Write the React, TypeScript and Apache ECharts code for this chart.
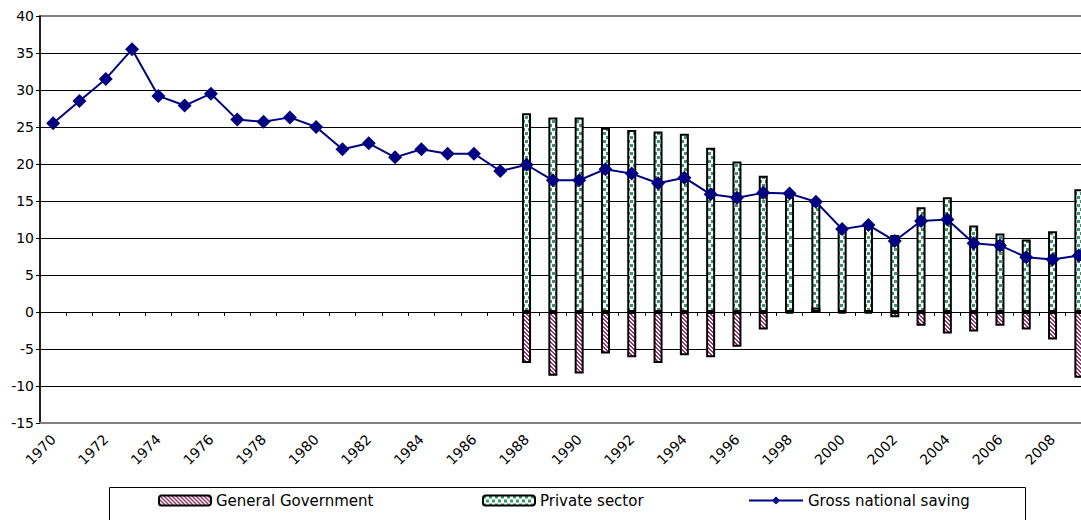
import React, { useEffect, useRef } from "react";
import * as echarts from "echarts";

const years = [
  "1970", "1971", "1972", "1973", "1974", "1975", "1976", "1977", "1978", "1979",
  "1980", "1981", "1982", "1983", "1984", "1985", "1986", "1987", "1988", "1989",
  "1990", "1991", "1992", "1993", "1994", "1995", "1996", "1997", "1998", "1999",
  "2000", "2001", "2002", "2003", "2004", "2005", "2006", "2007", "2008", "2009",
];

const generalGovernment = [
  null, null, null, null, null, null, null, null, null, null,
  null, null, null, null, null, null, null, null, -6.9, -8.6,
  -8.3, -5.6, -6.1, -6.9, -5.85, -6.1, -4.7, -2.35, -0.2, 0.6,
  -0.2, -0.2, -0.7, -1.85, -2.9, -2.65, -1.85, -2.35, -3.7, -8.9,
];

const privateSector = [
  null, null, null, null, null, null, null, null, null, null,
  null, null, null, null, null, null, null, null, 26.85, 26.3,
  26.3, 24.9, 24.6, 24.4, 24.1, 22.2, 20.35, 18.4, 15.9, 15.1,
  11.3, 12.1, 10.4, 14.15, 15.5, 11.7, 10.6, 9.8, 10.9, 16.6,
];

const grossNationalSaving = [
  25.5, 28.5, 31.5, 35.5, 29.2, 27.9, 29.5, 26.0, 25.7, 26.3,
  25.0, 22.0, 22.8, 20.9, 22.0, 21.4, 21.4, 19.05, 19.9, 17.8,
  17.8, 19.3, 18.7, 17.4, 18.15, 15.9, 15.45, 16.1, 16.0, 14.9,
  11.2, 11.75, 9.6, 12.3, 12.5, 9.3, 9.0, 7.4, 7.1, 7.65,
];

const yTicks = { min: -15, max: 40, interval: 5 };

function makePattern(kind: "dots" | "stripes") {
  const w = kind === "dots" ? 6 : 4;
  const h = kind === "dots" ? 8 : 4;
  const c = document.createElement("canvas");
  c.width = w;
  c.height = h;
  const ctx = c.getContext("2d")!;
  ctx.fillStyle = "#ffffff";
  ctx.fillRect(0, 0, w, h);
  if (kind === "dots") {
    ctx.fillStyle = "#339966";
    ctx.fillRect(0, 0, 3, 3);
    ctx.fillRect(3, 4, 3, 3);
  } else {
    ctx.fillStyle = "#993366";
    for (let y = 0; y < h; y++) {
      for (let x = 0; x < w; x++) {
        const d = (((x - y) % 4) + 4) % 4;
        if (d === 0 || d === 1) ctx.fillRect(x, y, 1, 1);
      }
    }
  }
  return { image: c, repeat: "repeat", imageWidth: w, imageHeight: h } as any;
}

export default function App() {
  const ref = useRef<HTMLDivElement>(null);

  useEffect(() => {
    if (!ref.current) return;
    const chart = echarts.init(ref.current, undefined, { renderer: "svg" });
    const font = "DejaVu Sans";
    const splitColors = ["rgba(0,0,0,0)"];
    for (let i = 0; i < 10; i++) splitColors.push("#000000");
    splitColors.push("rgba(0,0,0,0)");

    const dots = makePattern("dots");
    const stripes = makePattern("stripes");

    const legendCommon = {
      orient: "horizontal",
      padding: 0,
      itemHeight: 10,
      top: 493,
      textStyle: { fontFamily: font, fontSize: 15, color: "#000" },
      selectedMode: false,
    };

    chart.setOption({
      animation: false,
      backgroundColor: "#ffffff",
      grid: {
        left: 40,
        top: 16,
        right: 8,
        bottom: 97,
        show: true,
        borderColor: "#808080",
        borderWidth: 2,
        backgroundColor: "transparent",
      },
      graphic: [
        {
          type: "rect",
          shape: { x: 109.5, y: 487.5, width: 916, height: 50 },
          style: { fill: "#ffffff", stroke: "#000000", lineWidth: 1 },
          z: 0,
        },
      ],
      legend: [
        { ...legendCommon, left: 158, itemWidth: 52, data: ["General Government"] },
        { ...legendCommon, left: 482, itemWidth: 52, data: ["Private sector"] },
        { ...legendCommon, left: 748, itemWidth: 54, data: ["Gross national saving"] },
      ],
      xAxis: [
        {
          type: "category",
          data: years,
          position: "bottom",
          boundaryGap: true,
          axisLine: { onZero: false, lineStyle: { color: "#808080", width: 2 } },
          axisTick: { show: false },
          axisLabel: {
            interval: 1,
            rotate: 45,
            fontFamily: font,
            fontSize: 14,
            color: "#000",
            margin: 14,
          },
          splitLine: { show: false },
        },
        {
          type: "category",
          data: years,
          position: "top",
          boundaryGap: true,
          axisLine: { onZero: true, lineStyle: { color: "#000000", width: 1.2 } },
          axisTick: { show: true, inside: true, length: 4, interval: 0, lineStyle: { color: "#000" } },
          axisLabel: { show: false },
          splitLine: { show: false },
        },
      ],
      yAxis: {
        type: "value",
        min: yTicks.min,
        max: yTicks.max,
        interval: yTicks.interval,
        axisLine: { show: true, lineStyle: { color: "#000000", width: 1.5 } },
        axisTick: { show: true, length: 4, lineStyle: { color: "#000" } },
        axisLabel: { fontFamily: font, fontSize: 14, color: "#000", margin: 6 },
        splitLine: { show: true, lineStyle: { color: splitColors, width: 1 } },
      },
      series: [
        {
          name: "Private sector",
          type: "bar",
          data: privateSector,
          barWidth: 9,
          barGap: "-100%",
          itemStyle: { color: dots, borderColor: "#000000", borderWidth: 2 },
          z: 2,
        },
        {
          name: "General Government",
          type: "bar",
          data: generalGovernment,
          barWidth: 9,
          barGap: "-100%",
          itemStyle: { color: stripes, borderColor: "#000000", borderWidth: 2 },
          z: 3,
        },
        {
          name: "Gross national saving",
          type: "line",
          data: grossNationalSaving,
          symbol: "diamond",
          symbolSize: 14,
          lineStyle: { color: "#000080", width: 2 },
          itemStyle: { color: "#000080" },
          z: 4,
        },
      ],
    });

    return () => chart.dispose();
  }, []);

  return (
    <div
      style={{
        position: "absolute",
        left: 0,
        top: 0,
        width: 1081,
        height: 520,
        overflow: "hidden",
        background: "#ffffff",
      }}
    >
      <div ref={ref} style={{ width: 1100, height: 520 }} />
    </div>
  );
}
